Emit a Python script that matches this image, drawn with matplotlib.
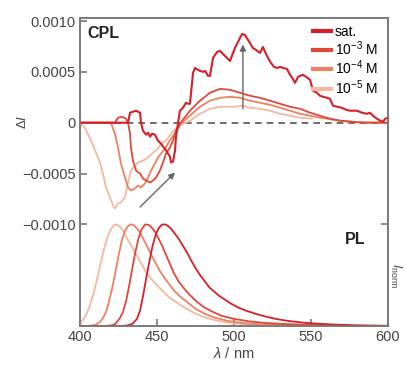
import matplotlib
matplotlib.use("Agg")
import matplotlib.pyplot as plt
import numpy as np

# CPL spectra, delta I in units of 1e-4
sat_wl = [400, 431.2, 432.5, 434.4, 436.4, 437.7, 439.0, 439.6, 440.9, 442.9, 444.2, 445.5, 446.8,
          448.7, 450.6, 452.6, 453.9, 455.2, 457.1, 458.4, 459.1, 460.4, 461.7, 462.3, 463.6,
          464.9, 466.9, 468.8, 470.1, 471.4, 473.4, 474.7, 476.6, 477.9, 479.9, 481.2, 483.1,
          484.4, 486.4, 489.0, 490.9, 492.9, 494.8, 497.4, 499.4, 500.6, 502.6, 505.2, 507.1,
          509.1, 510.4, 512.3, 514.3, 516.9, 518.8, 520.8, 522.1, 524.0, 526.0, 528.0, 529.9,
          531.8, 534.4, 536.4, 538.3, 539.6, 541.6, 542.9, 544.8, 546.8, 549.4, 551.3, 553.9,
          555.8, 557.8, 560.4, 562.3, 564.3, 566.9, 570.1, 572.7, 575.3, 577.9, 579.9, 583.1,
          586.4, 588.3, 590.9, 592.9, 594.8, 596.8, 598.1, 600]
sat_cpl = [0, 0, 0.98, 1.08, 1.18, 1.08, 0.98, 0, -0.78, -1.18, -0.98, -1.37, -1.08,
           -1.18, -1.76, -2.06, -2.35, -2.55, -3.04, -3.33, -3.92, -3.82, -2.75, -1.47, -0.1,
           1.18, 1.47, 1.96, 1.86, 1.86, 4.9, 5.39, 5.2, 5.1, 5.0, 5.1, 4.61,
           4.61, 6.37, 6.96, 7.06, 6.76, 6.47, 6.08, 6.86, 7.35, 7.94, 8.73, 8.63,
           8.14, 7.84, 7.35, 7.16, 6.86, 7.45, 6.76, 6.37, 5.88, 5.49, 5.39, 5.49,
           5.39, 5.29, 4.71, 4.31, 3.92, 4.51, 4.61, 4.71, 4.51, 4.22, 3.14, 2.94,
           2.65, 2.55, 2.45, 2.35, 1.67, 1.57, 1.47, 1.27, 1.18, 1.18, 1.18, 0.98,
           0.88, 0.98, 0.59, 0.39, 0.2, 0.1, 0.39, 0.49]

m3_wl = [400, 422.7, 424.7, 427.3, 429.9, 431.2, 432.5, 433.1, 434.4, 436.4, 439.0, 440.9, 442.9,
         445.5, 447.4, 449.4, 451.9, 453.9, 455.8, 458.4, 460.4, 462.3, 464.9, 471.4, 477.9,
         484.4, 490.9, 497.4, 503.9, 510.4, 516.9, 523.4, 529.9, 536.4, 542.9, 549.4, 555.8,
         562.3, 568.8, 575.3, 583.8, 600]
m3_cpl = [0, 0, 0.49, 0.59, 0.39, 0, -1.08, -2.45, -3.73, -4.71, -5.0, -5.49, -5.69,
          -5.88, -5.69, -5.39, -4.71, -3.92, -3.04, -2.45, -1.76, -0.78, -0.1, 1.18, 2.16,
          2.94, 3.33, 3.24, 2.94, 2.65, 2.45, 2.16, 1.86, 1.57, 1.37, 0.98, 0.69,
          0.39, 0.2, 0.1, 0, 0]

m4_wl = [400, 418.2, 420.1, 422.7, 424.7, 426.6, 429.2, 431.2, 433.1, 435.7, 437.7, 439.6, 442.2,
         444.2, 446.1, 448.7, 450.6, 452.6, 455.2, 457.1, 459.1, 461.7, 463.6, 465.6, 471.4,
         477.9, 484.4, 490.9, 497.4, 503.9, 510.4, 516.9, 523.4, 529.9, 536.4, 542.9, 555.8,
         568.8, 581.8, 600]
m4_cpl = [0, 0, 0, -1.08, -2.45, -4.02, -5.39, -6.37, -6.67, -6.47, -6.18, -6.37, -5.98,
          -5.39, -4.71, -4.02, -3.43, -3.04, -2.55, -2.06, -1.57, -1.08, -0.59, -0.1, 0.69,
          1.57, 2.16, 2.45, 2.55, 2.45, 2.16, 1.96, 1.76, 1.47, 1.18, 0.88, 0.49,
          0.2, 0.05, 0]

m5_wl = [400, 403.2, 407.1, 410.4, 413.0, 414.9, 416.9, 419.5, 421.4, 422.7, 424.7, 426.6, 429.2,
         431.2, 433.1, 435.7, 437.7, 440.9, 444.2, 447.4, 450.6, 452.6, 455.8, 459.1, 462.3,
         465.6, 468.8, 471.4, 477.9, 484.4, 490.9, 500.6, 505.8, 510.4, 516.9, 523.4, 529.9,
         536.4, 542.9, 550.6]
m5_cpl = [-0.1, -0.49, -1.76, -2.94, -3.92, -5.0, -6.37, -7.35, -8.14, -8.43, -7.94, -7.84, -7.35,
          -5.88, -4.71, -4.22, -3.92, -3.73, -3.43, -2.94, -2.55, -2.06, -1.76, -1.08, -0.59,
          -0.1, 0, 0.2, 0.88, 1.37, 1.57, 1.57, 1.67, 1.47, 1.37, 1.18, 0.88,
          0.69, 0.49, 0.39]

# normalised PL spectra
sat_pl_wl = [400, 425, 430, 434, 437, 439, 441, 443, 445, 447, 449, 451, 453, 454.5, 456, 458,
             460, 462, 464, 466, 468, 470, 472, 475, 478, 481, 484, 487, 490, 494, 498, 503,
             508, 514, 520, 527, 535, 545, 555, 565, 580, 600]
sat_pl = [0, 0, 0.003, 0.02, 0.07, 0.15, 0.3, 0.47, 0.63, 0.78, 0.89, 0.96, 0.995, 1.0, 0.995, 0.975,
          0.94, 0.9, 0.86, 0.81, 0.76, 0.71, 0.65, 0.57, 0.5, 0.44, 0.38, 0.34, 0.3, 0.26, 0.22, 0.18,
          0.15, 0.12, 0.095, 0.07, 0.05, 0.033, 0.022, 0.014, 0.006, 0.002]

m3_pl_wl = [400, 415, 420, 423, 426, 428, 430, 432, 434, 436, 438, 440, 442, 443, 445, 447,
            449, 451, 453, 455, 457, 459, 461, 464, 467, 471, 475, 480, 486, 492, 500, 510,
            520, 535, 550, 570, 600]
m3_pl = [0, 0, 0.005, 0.02, 0.08, 0.14, 0.25, 0.4, 0.57, 0.73, 0.86, 0.95, 0.995, 1.0, 0.99, 0.96,
         0.92, 0.86, 0.8, 0.73, 0.66, 0.59, 0.52, 0.44, 0.38, 0.31, 0.25, 0.19, 0.14, 0.1, 0.07, 0.045,
         0.03, 0.018, 0.01, 0.004, 0]

m4_pl_wl = [400, 405, 410, 413, 415, 417, 419, 421, 423, 425, 427, 429, 431, 433, 435, 437,
            439, 441, 443, 446, 449, 452, 455, 458, 461, 465, 470, 475, 481, 488, 496, 505,
            518, 540, 600]
m4_pl = [0, 0, 0.01, 0.04, 0.08, 0.14, 0.25, 0.38, 0.53, 0.69, 0.83, 0.93, 0.98, 1.0, 0.99, 0.96,
         0.92, 0.86, 0.8, 0.71, 0.62, 0.54, 0.47, 0.41, 0.35, 0.29, 0.23, 0.17, 0.12, 0.08, 0.05, 0.03,
         0.015, 0.005, 0]

m5_pl_wl = [400, 402, 404, 406, 408, 410, 412, 414, 416, 418, 420, 422, 423.5, 425, 427, 429,
            431, 434, 437, 440, 443, 446, 450, 454, 458, 463, 468, 474, 480, 487, 495, 505,
            520, 540, 600]
m5_pl = [0.03, 0.06, 0.11, 0.18, 0.28, 0.39, 0.52, 0.65, 0.78, 0.88, 0.95, 0.99, 1.0, 0.99, 0.96, 0.91,
         0.85, 0.77, 0.69, 0.61, 0.53, 0.47, 0.4, 0.34, 0.28, 0.23, 0.18, 0.13, 0.09, 0.06, 0.035, 0.02,
         0.008, 0.002, 0]

colors = ['#d5202a', '#e0483a', '#ec8064', '#f4b8a0']
labels = ['sat.', '10$^{-3}$ M', '10$^{-4}$ M', '10$^{-5}$ M']

plt.rcParams['font.family'] = ['Liberation Sans', 'DejaVu Sans']
plt.rcParams['mathtext.fontset'] = 'custom'
plt.rcParams['mathtext.rm'] = 'Liberation Sans'
plt.rcParams['mathtext.it'] = 'Liberation Sans:italic'

fig = plt.figure(figsize=(4.05, 3.72), dpi=100)
ax = fig.add_axes([0.1975, 0.1237, 0.7605, 0.8279])
ax2 = ax.twinx()

grey = '#7a7a7a'
ax.axhline(0, color='#555555', lw=1.2, ls=(0, (4, 3)), zorder=1)

cpl = [(sat_wl, sat_cpl), (m3_wl, m3_cpl), (m4_wl, m4_cpl), (m5_wl, m5_cpl)]
lws = [1.5, 1.3, 1.3, 1.3]
for i in range(3, -1, -1):
    wl, d = cpl[i]
    ax.plot(wl, np.array(d) * 1e-4, color=colors[i], lw=lws[i], zorder=3 - i + 2)

pl = [(sat_pl_wl, sat_pl), (m3_pl_wl, m3_pl), (m4_pl_wl, m4_pl), (m5_pl_wl, m5_pl)]
for i in range(3, -1, -1):
    wl, p = pl[i]
    ax2.plot(wl, p, color=colors[i], lw=1.3)

# legend handles
handles = [plt.Line2D([], [], color=c, lw=3) for c in colors]
ax.legend(handles, labels, loc='upper right', frameon=False, fontsize=10,
          handlelength=1.3, handletextpad=0.3, labelspacing=0.05,
          borderaxespad=0.3, bbox_to_anchor=(1.0, 1.01))

# arrows
ax.annotate('', xy=(461.7, -0.00049), xytext=(439, -0.00083),
            arrowprops=dict(arrowstyle='-|>', color='#666666', lw=1.0,
                            mutation_scale=9, shrinkA=0, shrinkB=0))
ax.annotate('', xy=(505.8, 0.00077), xytext=(505.8, 0.000137),
            arrowprops=dict(arrowstyle='-|>', color='#666666', lw=1.0,
                            mutation_scale=9, shrinkA=0, shrinkB=0))

ax.set_xlim(400, 600)
ax.set_ylim(-0.002, 0.00103)
ax2.set_ylim(0, (0.00103 + 0.002) / 0.001)

ax.set_xticks([400, 450, 500, 550, 600])
ax.set_yticks([0.001, 0.0005, 0, -0.0005, -0.001])
ax.set_yticklabels(['0.0010', '0.0005', '0', '\u22120.0005', '\u22120.0010'])
ax2.set_yticks([1])
ax2.set_yticklabels([])

for a in (ax, ax2):
    for s in a.spines.values():
        s.set_color(grey)
        s.set_linewidth(1.2)
ax.tick_params(direction='in', length=5, width=1.2, color=grey, labelsize=10.5,
               labelcolor='#444444', pad=3)
ax2.tick_params(direction='in', length=5, width=1.2, color=grey)

ax.text(0.025, 0.975, 'CPL', transform=ax.transAxes, fontsize=11.5, fontweight='bold',
        color='#222222', va='top')
ax.text(0.86, 0.28, 'PL', transform=ax.transAxes, fontsize=11.5, fontweight='bold',
        color='#222222', va='center')
ax.set_xlabel(r'$\lambda$ / nm', fontsize=10.5, color='#444444', labelpad=1)
fig.text(22 / 405, 1 - 122 / 372, r'$\Delta I$', rotation=90, fontsize=9.5,
         color='#444444', ha='center', va='center')
fig.text(396 / 405, 1 - 275 / 372, r'$I_\mathrm{norm}$', rotation=270, fontsize=9,
         color='#444444', ha='center', va='center')

fig.savefig('out.png', dpi=100)
